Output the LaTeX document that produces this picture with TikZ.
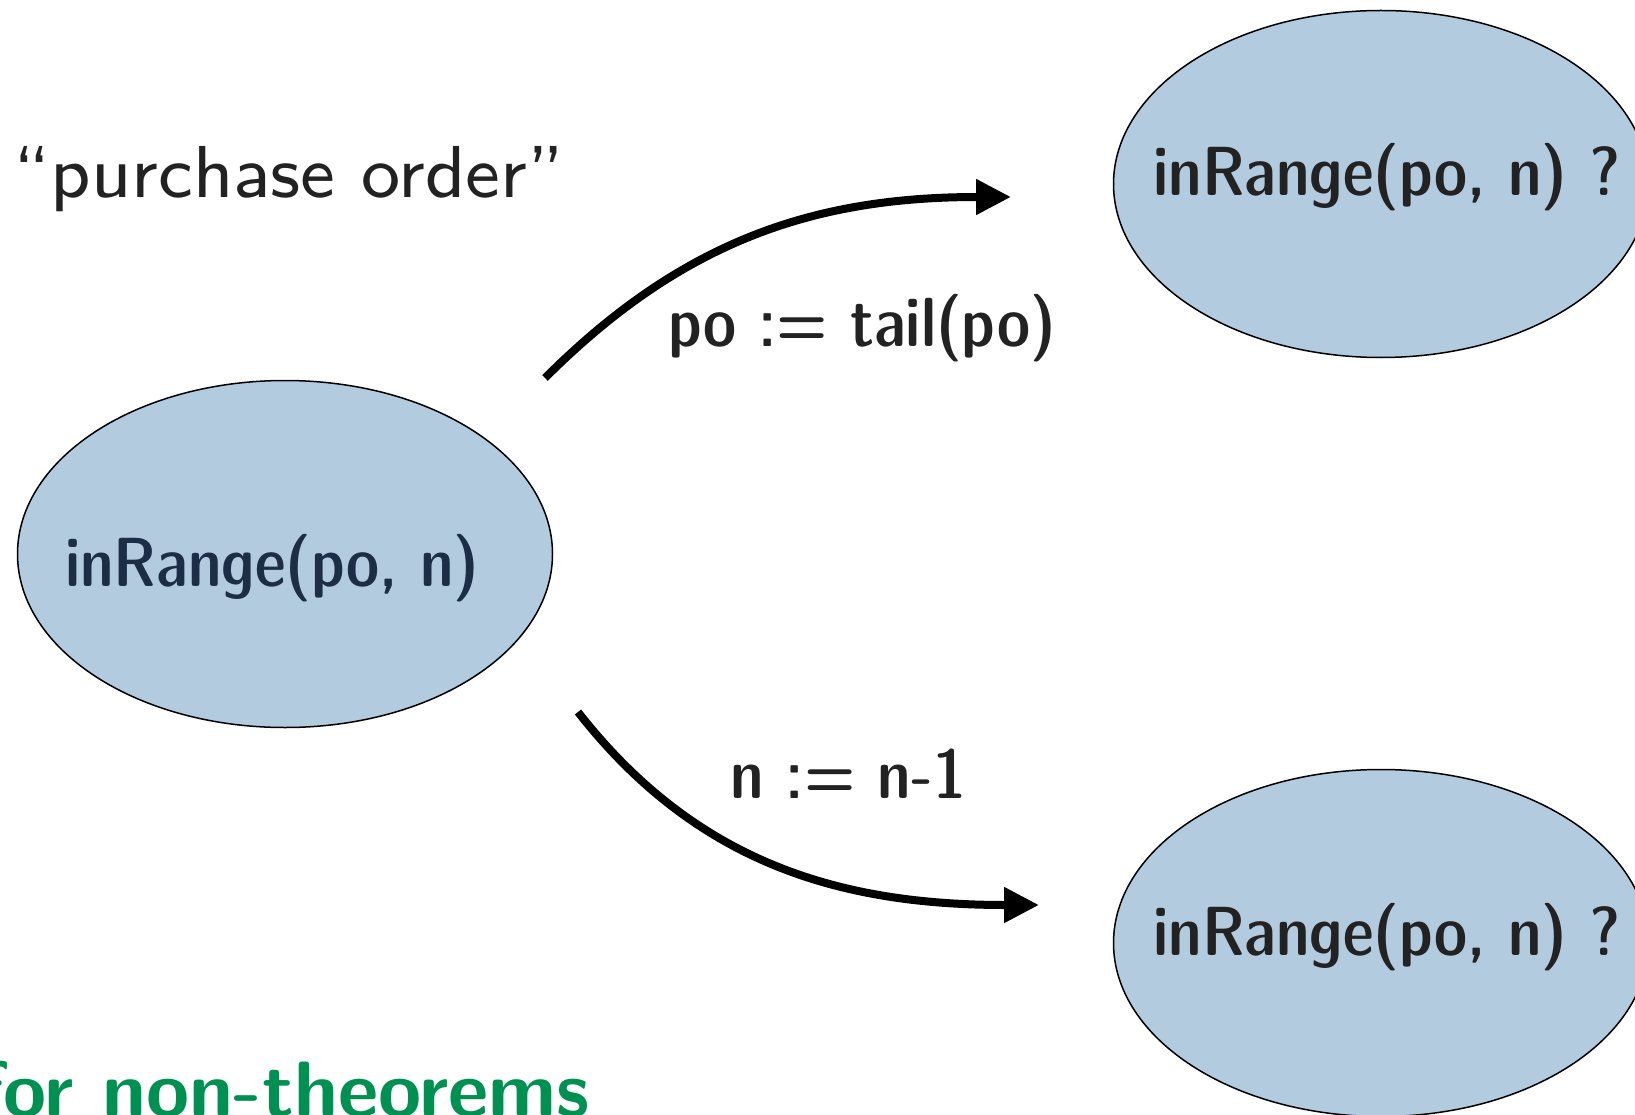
\documentclass[tikz,border=0pt]{standalone}
\usetikzlibrary{arrows.meta,shapes.geometric}
\definecolor{ellfill}{HTML}{B3CBDF}
\definecolor{darktext}{HTML}{222222}
\definecolor{navytext}{HTML}{1B2E45}
\definecolor{greentext}{HTML}{009152}
\newcommand{\dcfont}{\sffamily\fontseries{sbc}\selectfont}
\begin{document}
\begin{tikzpicture}[x=1pt,y=-1pt,
  stateell/.style={ellipse, draw=black, line width=1.5pt, fill=ellfill,
    minimum width=535pt, minimum height=347pt, inner sep=0pt},
  ellabel/.style={anchor=base west, inner sep=0pt, font=\fontsize{69.5}{82}\dcfont},
  edgelabel/.style={anchor=base west, inner sep=0pt, text=darktext, font=\fontsize{69.5}{82}\dcfont},
  flow/.style={line width=8pt, -{Triangle[length=35pt,width=34pt]}}
]
\useasboundingbox (0,0) rectangle (1635,1115);
\node[stateell] (L) at (285,554) {};
\node[stateell] (RT) at (1381,184) {};
\node[stateell] (RB) at (1381,943) {};
\node[ellabel, text=navytext] (Ltext) at (65,586) {inRange(po, n)};
\node[ellabel, text=darktext] (RTtext) at (1153,196) {inRange(po, n) ?};
\node[ellabel, text=darktext] (RBtext) at (1153,955) {inRange(po, n) ?};
\node[anchor=base west, inner sep=0pt, text=darktext, font=\fontsize{8}{10}\sffamily, scale=9.2] (po) at (12,198) {“purchase order”};
\node[anchor=base west, inner sep=0pt, text=greentext, font=\fontsize{78.5}{90}\sffamily\bfseries] (nt) at (-23,1116) {for non-theorems};
\node[edgelabel] (e1) at (668,346) {po := tail(po)};
\node[edgelabel] (e2) at (730,798) {n := n-1};
\coordinate (a1s) at (545,378);
\coordinate (a1e) at (1011,197);
\coordinate (a2s) at (578,712);
\coordinate (a2e) at (1039,905);
\draw[flow] (a1s) to[out=45,in=180] (a1e);
\draw[flow] (a2s) to[out=-52,in=180] (a2e);
\end{tikzpicture}
\end{document}
